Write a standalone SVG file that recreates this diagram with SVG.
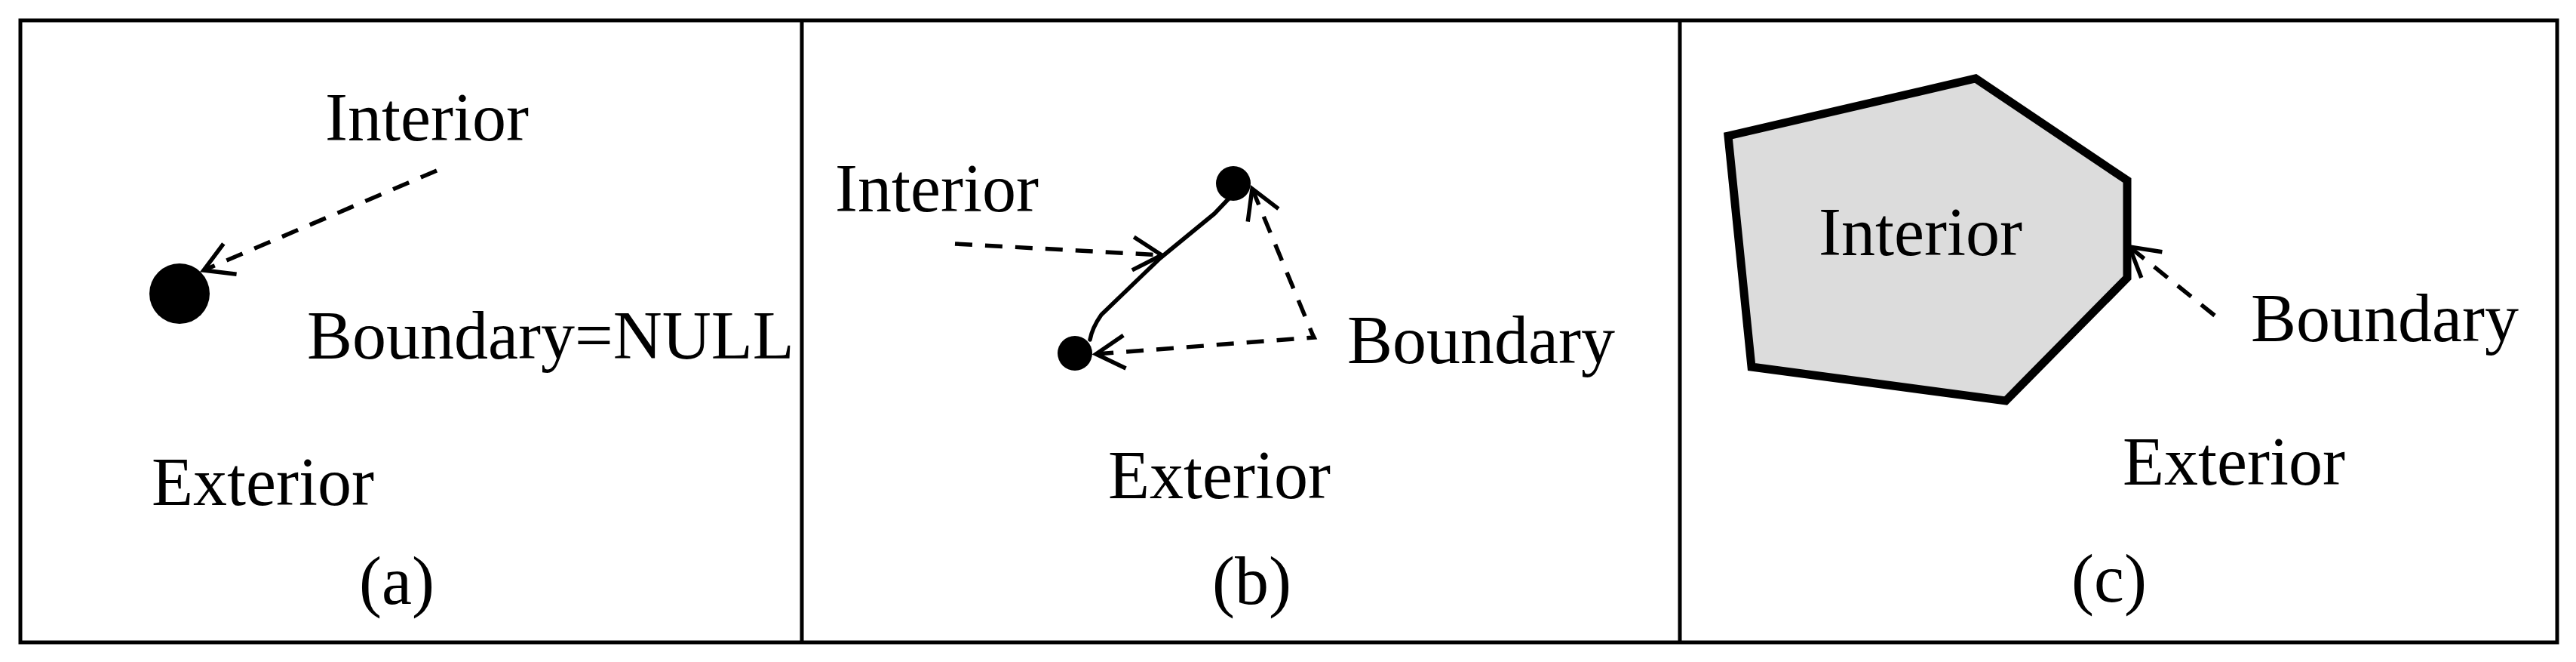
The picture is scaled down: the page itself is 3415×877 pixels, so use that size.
<svg xmlns="http://www.w3.org/2000/svg" width="3415" height="877" viewBox="0 0 3415 877">
<style>
text{font-family:"Liberation Serif","Times New Roman",serif;font-size:90px;fill:#000}
.frame{fill:none;stroke:#000;stroke-width:5}
.dash{fill:none;stroke:#000;stroke-width:5.5;stroke-dasharray:23 17}
.solid{fill:none;stroke:#000;stroke-width:5.5;stroke-linecap:round;stroke-linejoin:round}
</style>
<defs>
<marker id="open" markerUnits="userSpaceOnUse" markerWidth="80" markerHeight="80" refX="0" refY="0" viewBox="-50 -40 60 80" orient="auto-start-reverse" overflow="visible">
<path d="M -38 -22 L 0 0 L -38 22" fill="none" stroke="#000" stroke-width="5.5" stroke-dasharray="none"/>
</marker>
</defs>
<g id="frame">
<rect class="frame" x="27" y="27" width="3363" height="824"/>
<line class="frame" x1="1063" y1="27" x2="1063" y2="851"/>
<line class="frame" x1="2227" y1="27" x2="2227" y2="851"/>
</g>
<g id="panel-a">
<circle cx="238" cy="389" r="40" fill="#000"/>
<text x="431" y="186">Interior</text>
<text x="407" y="475">Boundary=NULL</text>
<text x="201" y="669">Exterior</text>
<text x="476" y="800">(a)</text>
</g>
<g id="panel-b">
<path class="solid" d="M 1630 262 L 1610 283 L 1538 342 L 1460 417 Q 1448 434 1445 450"/>
<circle cx="1635" cy="243" r="23" fill="#000"/>
<circle cx="1425" cy="468" r="23" fill="#000"/>
<text x="1107" y="280">Interior</text>
<text x="1786" y="481">Boundary</text>
<text x="1469" y="660">Exterior</text>
<text x="1607" y="800">(b)</text>
</g>
<g id="panel-c">
<polygon points="2291,180 2619,104 2820,239 2820,368 2659,531 2322,486" fill="#dcdcdc" stroke="#000" stroke-width="11" stroke-linejoin="miter"/>
<text x="2411" y="338">Interior</text>
<text x="2984" y="452">Boundary</text>
<text x="2814" y="642">Exterior</text>
<text x="2746" y="797">(c)</text>
</g>
<g id="connectors">
<line class="dash" x1="579" y1="226" x2="270" y2="358" marker-end="url(#open)"/>
<line class="dash" x1="1266" y1="323" x2="1540" y2="338" marker-end="url(#open)"/>
<polyline class="dash" points="1660,250 1740,443 1742,447 1453,469" marker-start="url(#open)" marker-end="url(#open)"/>
<line class="dash" x1="2936" y1="418" x2="2823" y2="327" marker-end="url(#open)"/>
</g>
</svg>
